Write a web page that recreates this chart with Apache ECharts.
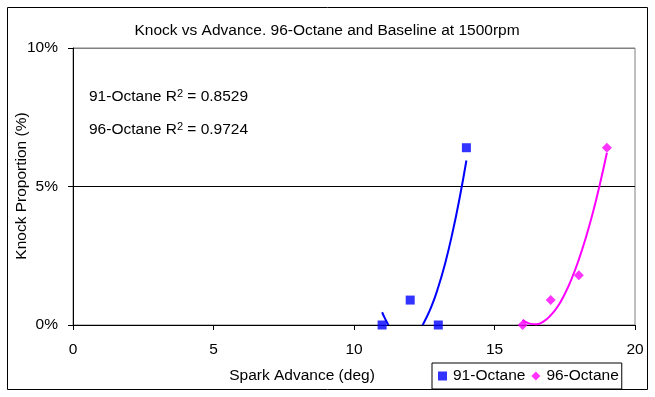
<!DOCTYPE html>
<html>
<head>
<meta charset="utf-8">
<script src="https://cdn.jsdelivr.net/npm/echarts@6/dist/echarts.min.js"></script>
<style>
html, body { margin: 0; padding: 0; background: #fff; }
#chart { width: 655px; height: 397px; }
</style>
</head>
<body>
<div id="chart"></div>
<script>
// knock proportion vs spark advance, 1500rpm
var FONT = 'Arial, "Liberation Sans", sans-serif';

// measured points
var advance91 = [11, 12, 13, 14];
var knock91 = [0, 0.009, 0, 0.064];
var advance96 = [16, 17, 18, 19];
var knock96 = [0, 0.009, 0.018, 0.064];

// trendlines (null = hidden under the axis)
var trendX91 = [11, 11.1, 11.2, 11.23, null, 12.44, 12.5, 12.75, 13, 13.25, 13.5, 13.75, 14];
var trendY91 = [0.0046, 0.0024, 0.0005, 0, null, 0, 0.0011, 0.0065, 0.0137, 0.0225, 0.0331, 0.0454, 0.0594];
var trendX96 = [16, 16.25, 16.5, 16.75, 17, 17.25, 17.5, 17.75, 18, 18.25, 18.5, 18.75, 19];
var trendY96 = [0.0019, 0.0005, 0.0003, 0.0013, 0.0035, 0.0067, 0.0112, 0.0168, 0.0236, 0.0315, 0.0405, 0.0508, 0.0622];

var r2Labels = ['91-Octane R', '96-Octane R'];
var r2Values = ['0.8529', '0.9724'];

function pairs(xs, ys) {
	var out = [];
	for (var i = 0; i < xs.length; i++) {
		out.push(xs[i] === null ? [NaN, NaN] : [xs[i], ys[i]]);
	}
	return out;
}

function r2Text(i, y) {
	return {
		type : 'text',
		x : 89,
		y : y,
		style : {
			text : '{n|' + r2Labels[i] + '}{s|2}{n| = ' + r2Values[i] + '}',
			fill : '#000',
			verticalAlign : 'middle',
			rich : {
				n : { fontSize : 15.5, fontFamily : FONT, fill : '#000', lineHeight : 18 },
				s : { fontSize : 11, fontFamily : FONT, fill : '#000', lineHeight : 18, verticalAlign : 'top' }
			}
		}
	};
}

var chart = echarts.init(document.getElementById('chart'));

var option = {
	animation : false,
	backgroundColor : '#fff',
	textStyle : { fontFamily : FONT },
	title : {
		text : 'Knock vs Advance. 96-Octane and Baseline at 1500rpm',
		left : 322,
		textAlign : 'center',
		top : 18,
		textStyle : { fontFamily : FONT, fontSize : 15.5, fontWeight : 'normal', color : '#000' }
	},
	legend : {
		data : [{ name : '91-Octane', icon : 'rect' }, { name : '96-Octane', icon : 'diamond' }],
		left : 432,
		top : 363,
		padding : [5, 3, 5, 6],
		itemWidth : 9,
		itemHeight : 9,
		itemGap : 6,
		borderColor : '#000',
		borderWidth : 1,
		textStyle : { fontFamily : FONT, fontSize : 15.5, color : '#000', padding : [0, 0, 0, 1] }
	},
	grid : {
		left : 73,
		right : 20,
		top : 48,
		bottom : 72,
		show : true,
		borderColor : '#808080',
		borderWidth : 1
	},
	xAxis : {
		type : 'value',
		min : 0,
		max : 20,
		interval : 5,
		axisLine : { show : true, onZero : false, lineStyle : { color : '#000', width : 1 } },
		axisTick : { show : true, inside : false, length : 5, lineStyle : { color : '#000' } },
		axisLabel : { color : '#000', fontSize : 15.5, fontFamily : FONT, margin : 17 },
		splitLine : { show : false }
	},
	yAxis : {
		type : 'value',
		min : 0,
		max : 0.1,
		interval : 0.05,
		axisLine : { show : true, lineStyle : { color : '#000', width : 1 } },
		axisTick : { show : true, inside : false, length : 5, lineStyle : { color : '#000' } },
		axisLabel : {
			color : '#000',
			fontSize : 15.5,
			fontFamily : FONT,
			margin : 15,
			formatter : function(v) { return Math.round(v * 100) + '%'; }
		},
		splitLine : { show : true, lineStyle : { color : ['#000', '#000', '#808080'], width : 1 } }
	},
	graphic : [{
		type : 'rect',
		shape : { x : 7.5, y : 7.5, width : 640, height : 382 },
		style : { fill : 'none', stroke : '#000', lineWidth : 1 },
		z : 100
	}, {
		type : 'text',
		x : 302,
		y : 376,
		style : { text : 'Spark Advance (deg)', font : '15.5px ' + FONT, fill : '#000', align : 'center', verticalAlign : 'middle' }
	}, {
		type : 'text',
		x : 22,
		y : 186,
		rotation : Math.PI / 2,
		style : { text : 'Knock Proportion (%)', font : '15.5px ' + FONT, fill : '#000', align : 'center', verticalAlign : 'middle' }
	}, r2Text(0, 97), r2Text(1, 130)],
	series : [{
		name : '91-Octane trend',
		type : 'line',
		data : pairs(trendX91, trendY91),
		smooth : true,
		showSymbol : false,
		connectNulls : false,
		clip : true,
		lineStyle : { color : '#0000ff', width : 2 },
		z : 2
	}, {
		name : '96-Octane trend',
		type : 'line',
		data : pairs(trendX96, trendY96),
		smooth : true,
		showSymbol : false,
		clip : true,
		lineStyle : { color : '#ff00ff', width : 2 },
		z : 2
	}, {
		name : '91-Octane',
		type : 'scatter',
		symbol : 'rect',
		symbolSize : 9,
		clip : false,
		data : pairs(advance91, knock91),
		itemStyle : { color : '#0000ff' },
		z : 3
	}, {
		name : '96-Octane',
		type : 'scatter',
		symbol : 'diamond',
		symbolSize : 10,
		clip : false,
		data : pairs(advance96, knock96),
		itemStyle : { color : '#ff00ff' },
		z : 3
	}]
};

chart.setOption(option);
</script>
</body>
</html>
